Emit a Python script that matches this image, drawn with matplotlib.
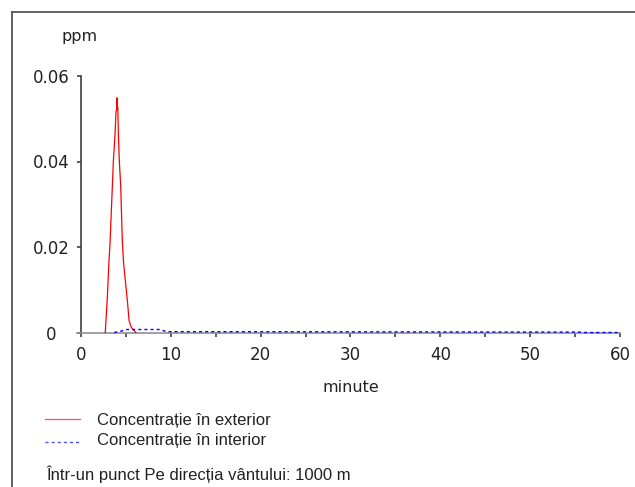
import matplotlib
matplotlib.use("Agg")
import matplotlib.pyplot as plt
from matplotlib.lines import Line2D

# Data (minutes, ppm)
ext_t = [2.7, 2.93, 3.1, 3.23, 3.38, 3.5, 3.6, 3.79, 3.9, 3.97, 4.0, 4.05, 4.1, 4.16, 4.27, 4.42, 4.6, 4.75, 4.9, 5.16, 5.35, 5.6, 6.1]
ext_v = [0.0, 0.0082, 0.016, 0.0208, 0.0285, 0.0347, 0.040, 0.0464, 0.0518, 0.0520, 0.0549, 0.0530, 0.0525, 0.0464, 0.0400, 0.0343, 0.0215, 0.0160, 0.0129, 0.0075, 0.0028, 0.0012, 0.0]
int_t = [3.7, 4.6, 5.0, 8.8, 9.5, 55.5, 56.0, 60.0]
int_v = [0.0, 0.0004, 0.0007, 0.0007, 0.0002, 0.0001, 0.0, 0.0]

xticks = [0, 10, 20, 30, 40, 50, 60]
xticks_minor = [5, 15, 25, 35, 45, 55]
yticks = [0, 0.02, 0.04, 0.06]
ytick_labels = ["0", "0.02", "0.04", "0.06"]

W, H = 635, 487
fig = plt.figure(figsize=(W / 100, H / 100), dpi=100)
fig.patch.set_facecolor("white")

def fx(px):
    return px / W

def fy(py):
    return 1 - py / H

ax = fig.add_axes([fx(77.4), fy(332.5), fx(620) - fx(77.4), fy(76) - fy(332.5)])
ax.set_xlim(-0.4, 60)
ax.set_ylim(0, 0.06)

ax.plot(ext_t, ext_v, color="#ff0000", lw=0.9, zorder=4, clip_on=False)
ax.plot(int_t, int_v, color="#0000ff", lw=1.0, linestyle=(0, (2.2, 2.2)), zorder=5, clip_on=False)

for s in ["top", "right"]:
    ax.spines[s].set_visible(False)
ax.spines["left"].set_position(("data", 0))
ax.spines["left"].set_color("#404040")
ax.spines["left"].set_linewidth(1.2)
ax.spines["bottom"].set_color("#909090")
ax.spines["bottom"].set_linewidth(1.2)
ax.spines["bottom"].set_zorder(3)

ax.set_xticks(xticks + xticks_minor)
ax.set_xticklabels([str(v) for v in xticks] + [""] * len(xticks_minor))
ax.set_yticks(yticks)
ax.set_yticklabels(ytick_labels)
ax.tick_params(axis="x", direction="out", length=3, width=1.2, color="#404040", pad=7,
               labelsize=12, labelcolor="#222222")
ax.tick_params(axis="y", direction="out", length=3, width=1.2, color="#404040", pad=18.5,
               labelsize=12, labelcolor="#222222")
for lab in ax.get_yticklabels():
    lab.set_horizontalalignment("center")
for lab in ax.get_xticklabels() + ax.get_yticklabels():
    lab.set_fontfamily("DejaVu Sans")

# Axis titles
fig.text(fx(80), fy(36), "ppm", ha="center", va="center", fontsize=11.5,
         family="DejaVu Sans", color="#222222")
fig.text(fx(351), fy(388), "minute", ha="center", va="center", fontsize=11.5,
         family="DejaVu Sans", color="#222222")

# Legend
fig.add_artist(Line2D([fx(45), fx(80)], [fy(419), fy(419)], color="#ff5050", lw=0.9))
fig.add_artist(Line2D([fx(45), fx(80)], [fy(442), fy(442)], color="#5050ff", lw=1.0,
                      linestyle=(0, (2.2, 2.2))))
fig.text(fx(97), fy(425), "Concentrație în exterior", ha="left", va="baseline", fontsize=12,
         family="Liberation Sans", color="#222222")
fig.text(fx(97), fy(445), "Concentrație în interior", ha="left", va="baseline", fontsize=12,
         family="Liberation Sans", color="#222222")
fig.text(fx(46.5), fy(480), "Într-un punct Pe direcția vântului: 1000 m", ha="left",
         va="baseline", fontsize=12, family="Liberation Sans", color="#222222")

# Outer frame (top and left)
fig.add_artist(Line2D([fx(12), fx(635)], [fy(12), fy(12)], color="#555555", lw=1.3))
fig.add_artist(Line2D([fx(12), fx(12)], [fy(12), fy(487)], color="#555555", lw=1.3))

fig.savefig("out.png", dpi=100, facecolor="white")
